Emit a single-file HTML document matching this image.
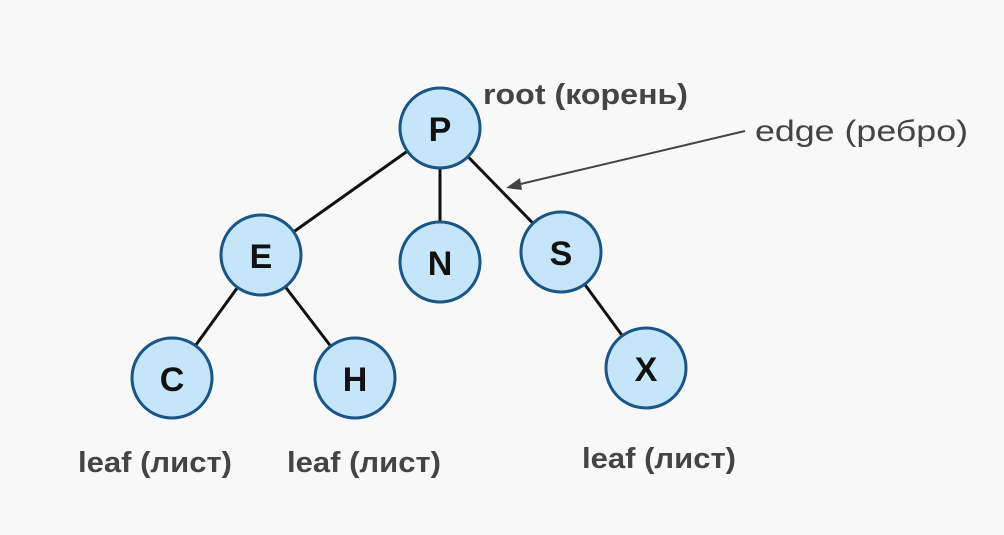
<!DOCTYPE html>
<html><head><style>body{margin:0;background:#f8f8f8}svg{display:block}</style></head><body>
<svg width="1004" height="535" xmlns="http://www.w3.org/2000/svg">
<rect width="1004" height="535" fill="#f8f8f8"/>
<g stroke="#111" stroke-width="3">
<line x1="440" y1="128" x2="261" y2="255"/>
<line x1="440" y1="128" x2="440" y2="262"/>
<line x1="440" y1="128" x2="561" y2="252"/>
<line x1="261" y1="255" x2="172" y2="378"/>
<line x1="261" y1="255" x2="355" y2="378"/>
<line x1="561" y1="252" x2="646" y2="368"/>
</g>
<line x1="745" y1="131" x2="512" y2="186" stroke="#444" stroke-width="2"/>
<polygon points="506,188 520,178 522,190" fill="#444"/>
<g fill="#c5e5fb" stroke="#1a5588" stroke-width="3">
<circle cx="440" cy="128" r="40"/>
<circle cx="261" cy="255" r="40"/>
<circle cx="440" cy="262" r="40"/>
<circle cx="561" cy="252" r="40"/>
<circle cx="172" cy="378" r="40"/>
<circle cx="355" cy="378" r="40"/>
<circle cx="646" cy="368" r="40"/>
</g>
<g font-family="Liberation Sans, sans-serif" font-weight="bold" font-size="34" fill="#111" text-anchor="middle">
<text x="440" y="141">P</text>
<text x="261" y="268">E</text>
<text x="440" y="275">N</text>
<text x="561" y="265">S</text>
<text x="172" y="391">C</text>
<text x="355" y="391">H</text>
<text x="646" y="381">X</text>
</g>
<g font-family="Liberation Sans, sans-serif" font-weight="bold" font-size="29" fill="#444">
<text x="483" y="104" textLength="205" lengthAdjust="spacingAndGlyphs">root (корень)</text>
<text x="78" y="472" textLength="154" lengthAdjust="spacingAndGlyphs">leaf (лист)</text>
<text x="287" y="472" textLength="154" lengthAdjust="spacingAndGlyphs">leaf (лист)</text>
<text x="582" y="468" textLength="154" lengthAdjust="spacingAndGlyphs">leaf (лист)</text>
</g>
<text x="755" y="141" font-family="Liberation Sans, sans-serif" font-size="30" fill="#444" textLength="213" lengthAdjust="spacingAndGlyphs">edge (ребро)</text>
</svg>
</body></html>
